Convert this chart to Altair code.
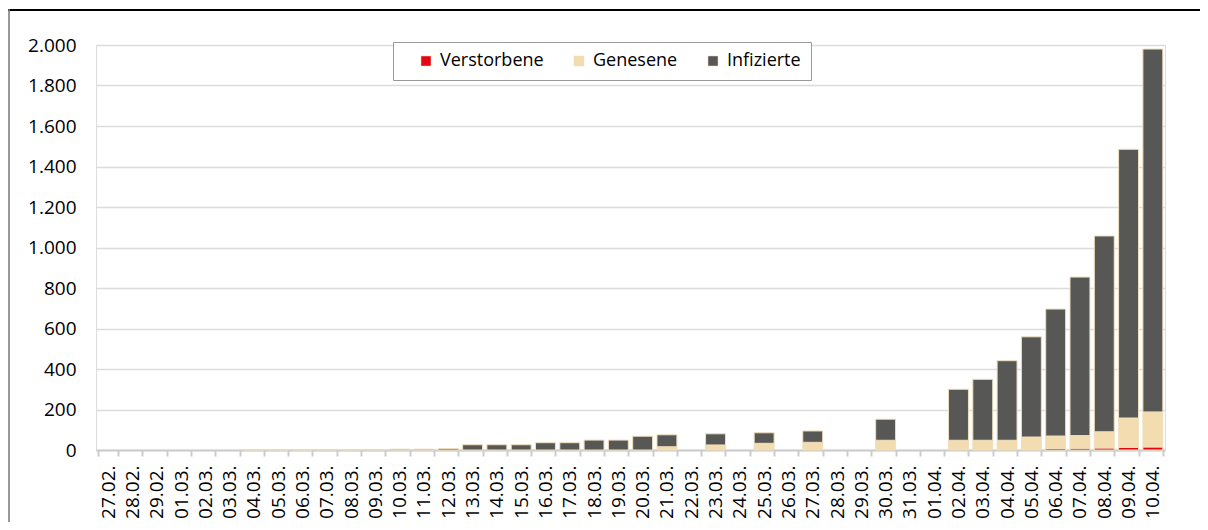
import altair as alt
import pandas as pd

dates = ["27.02.", "28.02.", "29.02.", "01.03.", "02.03.", "03.03.", "04.03.", "05.03.",
         "06.03.", "07.03.", "08.03.", "09.03.", "10.03.", "11.03.", "12.03.", "13.03.",
         "14.03.", "15.03.", "16.03.", "17.03.", "18.03.", "19.03.", "20.03.", "21.03.",
         "22.03.", "23.03.", "24.03.", "25.03.", "26.03.", "27.03.", "28.03.", "29.03.",
         "30.03.", "31.03.", "01.04.", "02.04.", "03.04.", "04.04.", "05.04.", "06.04.",
         "07.04.", "08.04.", "09.04.", "10.04."]

verstorbene = [0, 0, 0, 0, 0, 0, 0, 0, 0, 0, 0, 0, 0, 0, 0, 0,
               0, 0, 0, 0, 0, 0, 0, 0, 0, 0, 0, 0, 0, 0, 0, 0,
               0, 0, 0, 0, 0, 0, 0, 8, 9, 10, 13, 15]

genesene = [0, 0, 0, 0, 0, 0, 0, 0, 0, 0, 0, 0, 0, 0, 0, 0,
            0, 0, 0, 0, 0, 0, 0, 16, 0, 25, 0, 33, 0, 38, 0, 0,
            48, 0, 0, 48, 48, 48, 64, 61, 62, 80, 145, 173]

infizierte = [0, 0, 0, 0, 0, 0, 2, 2, 2, 2, 2, 2, 4, 4, 7, 26,
              26, 26, 36, 36, 49, 49, 68, 59, 0, 55, 0, 52, 0, 56, 0, 0,
              104, 0, 0, 252, 301, 393, 495, 627, 783, 967, 1327, 1792]

series = ["Verstorbene", "Genesene", "Infizierte"]
colors = ["#e30613", "#f2dcb0", "#575756"]

rows = []
for i, d in enumerate(dates):
    for k, (name, vals) in enumerate(zip(series, [verstorbene, genesene, infizierte])):
        rows.append({"Datum": d, "Serie": name, "Wert": vals[i], "o": k})
df = pd.DataFrame(rows)

FONT = "Open Sans"

bars = alt.Chart(df).transform_filter("datum.Wert > 0").mark_bar(
    stroke="#efdfbd", strokeWidth=1
).encode(
    x=alt.X("Datum:N", sort=dates, title=None,
            scale=alt.Scale(domain=dates, paddingInner=0.18, paddingOuter=0.09),
            axis=alt.Axis(labelAngle=-90, labelFontSize=19, labelFont=FONT,
                          labelColor="#000000", labelPadding=9,
                          domainColor="#cccccc", domainWidth=2,
                          tickColor="#cccccc", tickWidth=2, tickSize=6,
                          tickBand="extent", grid=False)),
    y=alt.Y("Wert:Q", title=None, stack="zero",
            scale=alt.Scale(domain=[0, 2000], nice=False),
            axis=alt.Axis(values=list(range(0, 2001, 200)),
                          labelExpr="replace(format(datum.value, ','), ',', '.')",
                          labelFontSize=19, labelFont=FONT, labelColor="#000000",
                          labelPadding=20, domain=False, ticks=False,
                          gridColor="#dcdcdc", gridWidth=1.5)),
    color=alt.Color("Serie:N", sort=series,
                    scale=alt.Scale(domain=series, range=colors),
                    legend=alt.Legend(title=None, orient="none", legendX=297, legendY=-3,
                                      direction="horizontal", fillColor="#ffffff",
                                      strokeColor="#999999", padding=10,
                                      symbolType="square", symbolSize=100,
                                      symbolStrokeColor="#efdfbd", symbolStrokeWidth=0.5,
                                      labelFontSize=18, labelFont=FONT,
                                      labelColor="#000000", labelOffset=5,
                                      columnPadding=12, symbolOffset=14)),
    order=alt.Order("o:Q", sort="ascending"),
)

one = alt.Chart(pd.DataFrame({"a": [0]}))
top_line = one.mark_rule(color="#000000", strokeWidth=2).encode(
    x=alt.value(-88), x2=alt.value(1110), y=alt.value(-35))
left_line = one.mark_rule(color="#777777", strokeWidth=1.5).encode(
    x=alt.value(-87), y=alt.value(-36), y2=alt.value(480))

chart = alt.layer(bars, top_line, left_line).properties(
    width=1069, height=405,
    autosize=alt.AutoSizeParams(type="none"),
    padding={"left": 88, "top": 37, "right": 35, "bottom": 72},
).configure_view(stroke=None).configure(font=FONT)

chart.save("out.html", embed_options={"renderer": "svg", "actions": False})
